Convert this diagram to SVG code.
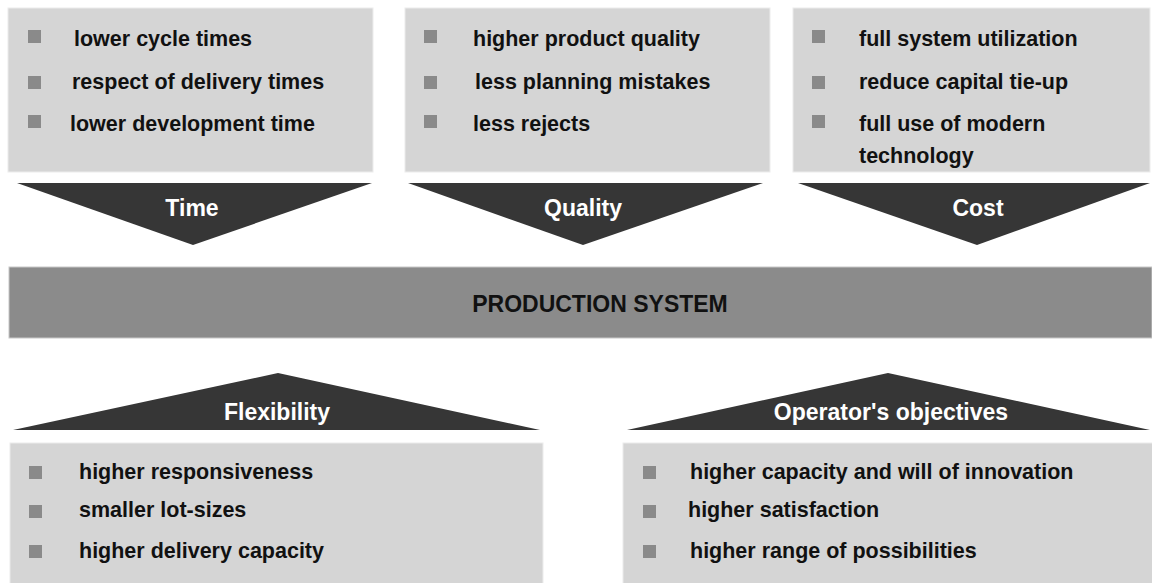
<svg xmlns="http://www.w3.org/2000/svg" width="1152" height="583" viewBox="0 0 1152 583">
  <style>
    .box { fill: #d5d5d5; stroke: #ececec; stroke-width: 1; }
    .tri { fill: #363636; }
    .bar { fill: #8b8b8b; stroke: #c8c8c8; stroke-width: 1; }
    .bul { fill: #8a8a8a; }
    .txt { font-family: "Liberation Sans", Arial, sans-serif; font-weight: bold; font-size: 21.5px; fill: #111; }
    .lbl { font-family: "Liberation Sans", Arial, sans-serif; font-weight: bold; font-size: 23px; fill: #ffffff; text-anchor: middle; }
    .main { font-family: "Liberation Sans", Arial, sans-serif; font-weight: bold; font-size: 23px; fill: #111; text-anchor: middle; }
  </style>
  <rect width="1152" height="583" fill="#ffffff"/>

  <g id="time-box">
    <rect class="box" x="8" y="8" width="365" height="164"/>
    <rect class="bul" x="28" y="30" width="13" height="13"/>
    <rect class="bul" x="28" y="76" width="13" height="13"/>
    <rect class="bul" x="28" y="115" width="13" height="13"/>
    <text class="txt" x="74" y="46">lower cycle times</text>
    <text class="txt" x="72" y="89">respect of delivery times</text>
    <text class="txt" x="70" y="131">lower development time</text>
  </g>

  <g id="quality-box">
    <rect class="box" x="405" y="8" width="365" height="164"/>
    <rect class="bul" x="424" y="30" width="13" height="13"/>
    <rect class="bul" x="424" y="76" width="13" height="13"/>
    <rect class="bul" x="424" y="115" width="13" height="13"/>
    <text class="txt" x="473" y="46">higher product quality</text>
    <text class="txt" x="475" y="89">less planning mistakes</text>
    <text class="txt" x="473" y="131">less rejects</text>
  </g>

  <g id="cost-box">
    <rect class="box" x="793" y="8" width="357" height="164"/>
    <rect class="bul" x="812" y="30" width="13" height="13"/>
    <rect class="bul" x="812" y="76" width="13" height="13"/>
    <rect class="bul" x="812" y="115" width="13" height="13"/>
    <text class="txt" x="859" y="46">full system utilization</text>
    <text class="txt" x="859" y="89">reduce capital tie-up</text>
    <text class="txt" x="859" y="131">full use of modern</text>
    <text class="txt" x="859" y="163">technology</text>
  </g>

  <g id="time">
    <polygon class="tri" points="17,183 372,183 193,245"/>
    <text class="lbl" x="192" y="216">Time</text>
  </g>
  <g id="quality">
    <polygon class="tri" points="408,183 763,183 583,245"/>
    <text class="lbl" x="583" y="216">Quality</text>
  </g>
  <g id="cost">
    <polygon class="tri" points="798,183 1150,183 977,245"/>
    <text class="lbl" x="978" y="216">Cost</text>
  </g>

  <g id="production-system">
    <rect class="bar" x="9" y="267" width="1143" height="71"/>
    <text class="main" x="600" y="312">PRODUCTION SYSTEM</text>
  </g>

  <g id="flexibility">
    <polygon class="tri" points="13,430 540,430 278,373"/>
    <text class="lbl" x="277" y="420">Flexibility</text>
  </g>
  <g id="operators-objectives">
    <polygon class="tri" points="627,430 1150,430 888,373"/>
    <text class="lbl" x="891" y="420">Operator's objectives</text>
  </g>

  <g id="flexibility-box">
    <rect class="box" x="10" y="443" width="533" height="145"/>
    <rect class="bul" x="29" y="466" width="13" height="13"/>
    <rect class="bul" x="29" y="505" width="13" height="13"/>
    <rect class="bul" x="29" y="545" width="13" height="13"/>
    <text class="txt" x="79" y="479">higher responsiveness</text>
    <text class="txt" x="79" y="517">smaller lot-sizes</text>
    <text class="txt" x="79" y="558">higher delivery capacity</text>
  </g>

  <g id="operators-box">
    <rect class="box" x="623" y="443" width="534" height="145"/>
    <rect class="bul" x="643" y="466" width="13" height="13"/>
    <rect class="bul" x="643" y="505" width="13" height="13"/>
    <rect class="bul" x="643" y="545" width="13" height="13"/>
    <text class="txt" x="690" y="479">higher capacity and will of innovation</text>
    <text class="txt" x="688" y="517">higher satisfaction</text>
    <text class="txt" x="690" y="558">higher range of possibilities</text>
  </g>

  <g id="connectors"></g>
</svg>
